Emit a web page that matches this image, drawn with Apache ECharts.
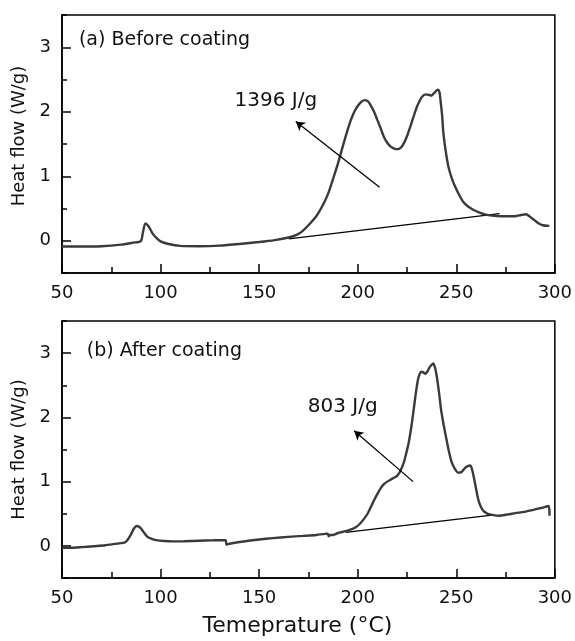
<!DOCTYPE html>
<html>
<head>
<meta charset="utf-8">
<script src="https://cdn.jsdelivr.net/npm/echarts@6/dist/echarts.min.js"></script>
<style>html,body{margin:0;padding:0;background:#fff}#c{width:575px;height:641px}</style>
</head>
<body>
<div id="c"></div>
<script>
// ---- data ----
var beforeCoating = [[50,-0.09],[60,-0.09],[70,-0.085],[80,-0.06],[86,-0.03],[90,-0.005],[91,0.12],[92.3,0.27],[94,0.22],[96,0.11],[98,0.04],[100,-0.01],[104,-0.05],[110,-0.08],[120,-0.085],[130,-0.075],[140,-0.05],[150,-0.02],[158,0.01],[165,0.05],[169,0.09],[172,0.15],[175.6,0.26],[179,0.38],[182.3,0.55],[185,0.73],[187.3,0.94],[190,1.2],[192.4,1.46],[194.5,1.68],[196.5,1.87],[198.3,2.0],[200,2.09],[202,2.16],[203.8,2.18],[205.2,2.16],[206.6,2.10],[208.3,2.0],[210,1.87],[211.7,1.74],[213.3,1.61],[215,1.52],[216.7,1.46],[218.5,1.43],[220,1.42],[221.8,1.44],[223.4,1.51],[225,1.62],[226.7,1.77],[228.4,1.93],[230.1,2.08],[232.6,2.23],[234.6,2.27],[236.3,2.26],[237.5,2.25],[238.5,2.28],[240.6,2.34],[241.5,2.30],[242,2.18],[242.8,1.95],[243.5,1.66],[244.7,1.38],[246,1.15],[247.7,0.97],[249.4,0.84],[251.5,0.71],[253.6,0.60],[256,0.53],[258.6,0.48],[261.5,0.44],[264.5,0.41],[268,0.39],[272.9,0.38],[279.6,0.38],[283,0.40],[285.4,0.41],[287.5,0.37],[289.6,0.32],[291.7,0.27],[293.8,0.24],[297.2,0.23]];
var afterCoating = [[50,-0.03],[55,-0.03],[60,-0.02],[66,-0.005],[72,0.01],[78,0.035],[82,0.055],[83.4,0.10],[85,0.18],[86.5,0.27],[87.9,0.31],[89,0.30],[90.1,0.27],[91.5,0.21],[93.4,0.14],[95.5,0.11],[97.6,0.09],[102,0.075],[106,0.07],[112,0.072],[119.4,0.08],[126,0.085],[133,0.09],[133.4,0.02],[134.5,0.03],[136.2,0.04],[140,0.06],[144.6,0.08],[150,0.10],[157,0.12],[164.7,0.14],[172,0.155],[179,0.17],[184.8,0.19],[185.3,0.15],[186,0.17],[187.3,0.17],[190,0.20],[194,0.23],[197,0.26],[199,0.29],[201,0.34],[203.2,0.42],[205,0.50],[206.6,0.60],[208.3,0.71],[210,0.81],[211.7,0.90],[213.3,0.96],[215,1.00],[216.7,1.03],[218.4,1.06],[220,1.09],[221.7,1.17],[223.4,1.30],[224.7,1.45],[225.9,1.61],[227.2,1.85],[228.4,2.12],[229.5,2.38],[230.6,2.59],[231.5,2.68],[232.3,2.71],[233.3,2.70],[234.3,2.68],[235.3,2.71],[236.3,2.77],[237.3,2.81],[238.3,2.84],[239.2,2.78],[240.1,2.64],[241.2,2.40],[242.3,2.12],[243.5,1.90],[244.7,1.71],[246.2,1.48],[247.7,1.30],[249.3,1.20],[251,1.14],[252.7,1.15],[254.4,1.21],[255.8,1.24],[257.1,1.25],[258.1,1.18],[259.1,1.04],[260.1,0.88],[261.1,0.73],[262.3,0.62],[263.6,0.55],[265.3,0.51],[267,0.49],[271.2,0.47],[276.2,0.49],[280,0.51],[284.6,0.53],[289,0.56],[293,0.59],[297,0.62],[297.3,0.47]];
var baselineBefore = [[165,0.03],[272,0.42]];
var baselineAfter = [[194,0.21],[268,0.48]];
var arrowBefore = [[211.1,0.83],[168.6,1.85]];
var arrowAfter = [[228.1,1.0],[198.2,1.79]];
var enthalpyBefore = {text:'1396 J/g', at:[137.5,2.17]};
var enthalpyAfter = {text:'803 J/g', at:[174.7,2.16]};
var panelBefore = {text:'(a) Before coating', at:[58.6,3.11]};
var panelAfter = {text:'(b) After coating', at:[62.6,3.03]};
var xTicks = {min:50, max:300, step:50};
var yTicks = {min:-0.5, max:3.5, step:0.5, major:[0,1,2,3]};
var xTitle = 'Temeprature (°C)';
var yTitle = 'Heat flow (W/g)';

// ---- chart ----
var FONT = 'DejaVu Sans';
var TXT = '#111';
var chart = echarts.init(document.getElementById('c'), null, {renderer:'canvas'});

function xAxisCfg(gridIndex, withName){
  var a = {
    type:'value', gridIndex:gridIndex, min:xTicks.min, max:xTicks.max, interval:xTicks.step,
    axisLine:{show:true, onZero:false, lineStyle:{color:'#000', width:1.5}},
    axisTick:{show:true, inside:true, length:9, lineStyle:{color:'#000', width:1.5}},
    minorTick:{show:true, splitNumber:2, length:6, lineStyle:{color:'#000', width:1.5}},
    axisLabel:{fontSize:18, fontFamily:FONT, color:TXT, margin:11},
    splitLine:{show:false}, minorSplitLine:{show:false}
  };
  if (withName) {
    a.name = xTitle; a.nameLocation = 'middle'; a.nameGap = 37;
    a.nameTextStyle = {fontSize:22, fontFamily:FONT, color:TXT, padding:[0,22,0,0]};
  }
  return a;
}
function yAxisCfg(gridIndex, pad){
  return {
    type:'value', gridIndex:gridIndex, min:yTicks.min, max:yTicks.max, interval:yTicks.step,
    name:yTitle, nameLocation:'middle', nameGap:30,
    nameTextStyle:{fontSize:18, fontFamily:FONT, color:TXT, padding:pad},
    axisLine:{show:true, onZero:false, lineStyle:{color:'#000', width:1.5}},
    axisTick:{show:true, inside:true, length:5, lineStyle:{color:'#000', width:1.5}},
    axisLabel:{fontSize:18, fontFamily:FONT, color:TXT, margin:11,
      formatter:function(v){ return yTicks.major.indexOf(Math.round(v*2)/2) >= 0 ? String(Math.round(v)) : ''; }},
    splitLine:{show:false}
  };
}
function yMajorCfg(gridIndex){
  return {
    type:'value', gridIndex:gridIndex, min:yTicks.min, max:yTicks.max, position:'left',
    axisLine:{show:false, onZero:false},
    axisTick:{show:true, inside:true, length:9, customValues:yTicks.major, lineStyle:{color:'#000', width:1.5}},
    axisLabel:{show:false}, splitLine:{show:false}
  };
}
function curve(data, xi, yi, arrow, label, panel){
  return {
    type:'line', xAxisIndex:xi, yAxisIndex:yi, data:data, showSymbol:false, smooth:0.25,
    lineStyle:{color:'#3a3a3a', width:2.4}, silent:true, z:3,
    markLine:{
      silent:true, symbol:['none','arrow'], symbolSize:[8,9],
      lineStyle:{color:'#000', width:1.3, type:'solid'}, label:{show:false},
      data:[[{coord:arrow[0]},{coord:arrow[1]}]]
    },
    markPoint:{
      silent:true, symbol:'rect', symbolSize:0,
      label:{show:true, position:'right', distance:0, fontFamily:FONT, color:TXT},
      data:[
        {coord:label.at, value:label.text, label:{fontSize:20, formatter:label.text}},
        {coord:panel.at, value:panel.text, label:{fontSize:19, formatter:panel.text}}
      ]
    }
  };
}
function baseline(data, xi, yi){
  return {type:'line', xAxisIndex:xi, yAxisIndex:yi, data:data, showSymbol:false,
    lineStyle:{color:'#000', width:1.3}, silent:true, z:2};
}

chart.setOption({
  animation:false,
  backgroundColor:'#fff',
  grid:[
    {left:62, top:15, width:497, height:258, show:true, borderColor:'#000', borderWidth:1.5},
    {left:62, top:321, width:497, height:257, show:true, borderColor:'#000', borderWidth:1.5}
  ],
  xAxis:[xAxisCfg(0,false), xAxisCfg(1,true)],
  yAxis:[yAxisCfg(0,[0,0,0,16]), yAxisCfg(1,0), yMajorCfg(0), yMajorCfg(1)],
  series:[
    curve(beforeCoating, 0, 0, arrowBefore, enthalpyBefore, panelBefore),
    baseline(baselineBefore, 0, 0),
    curve(afterCoating, 1, 1, arrowAfter, enthalpyAfter, panelAfter),
    baseline(baselineAfter, 1, 1)
  ]
});
</script>
</body>
</html>
